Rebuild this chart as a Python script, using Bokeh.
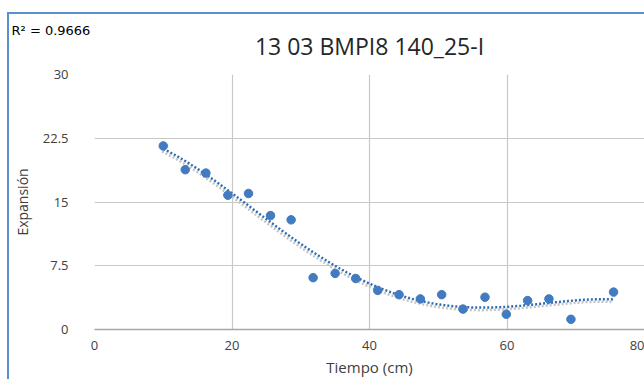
import numpy as np
from bokeh.plotting import figure
from bokeh.models import Title, FixedTicker
from bokeh.embed import file_html
from bokeh.resources import INLINE

title_text = "13 03 BMPI8 140_25-I"
r2_text = "R² = 0.9666"
x_label = "Tiempo (cm)"
y_label = "Expansión"

tiempo = [10.0, 13.2, 16.2, 19.4, 22.4, 25.6, 28.6, 31.8, 35.0, 38.0, 41.2,
          44.3, 47.4, 50.5, 53.6, 56.8, 59.9, 63.0, 66.1, 69.3, 75.5]
expansion = [21.6, 18.8, 18.4, 15.8, 16.0, 13.4, 12.9, 6.1, 6.6, 6.0, 4.6,
             4.1, 3.6, 4.1, 2.4, 3.8, 1.8, 3.4, 3.6, 1.2, 4.4]

x_ticks = [0, 20, 40, 60, 80]
y_ticks = [0, 7.5, 15, 22.5, 30]
y_tick_labels = ["0", "7.5", "15", "22.5", "30"]

# polynomial trendline fitted to the data
coef = np.polyfit(tiempo, expansion, 4)
tx = np.linspace(min(tiempo), max(tiempo), 200)
ty = np.polyval(coef, tx)

OX, OY = 9, 14  # figure offset inside the page (chart border)
p = figure(width=644 - OX, height=379 - OY, output_backend="svg", toolbar_location=None,
           x_range=(0, 80), y_range=(0, 30),
           min_border_left=93 - OX, min_border_right=0,
           min_border_top=73 - OY, min_border_bottom=50)
p.margin = (OY, 0, 0, OX)
p.styles = {"outline": "2px solid #5a8fd1"}
p.outline_line_color = None
p.background_fill_color = "white"
p.border_fill_color = "white"

# outermost title: R² note; inner title: chart title
p.title = Title(text=r2_text, align="left", offset=10 - 93,
                text_font="DejaVu Sans", text_font_size="13px",
                text_font_style="normal", text_color="#000000", standoff=-47)
p.add_layout(Title(text=title_text, align="center",
                   text_font="Open Sans", text_font_size="23px",
                   text_font_style="normal", text_color="#262626", standoff=26), "above")

p.xaxis.ticker = FixedTicker(ticks=x_ticks)
p.yaxis.ticker = FixedTicker(ticks=y_ticks)
p.yaxis.major_label_overrides = {t: l for t, l in zip(y_ticks, y_tick_labels)}
for ax in (p.xaxis, p.yaxis):
    ax.major_tick_line_color = None
    ax.minor_tick_line_color = None
    ax.major_label_text_font = "Open Sans"
    ax.major_label_text_font_size = "13px"
    ax.major_label_text_color = "#404040"
    ax.axis_label_text_font = "Open Sans"
    ax.axis_label_text_font_style = "normal"
    ax.axis_label_text_color = "#404040"
p.yaxis.axis_line_color = None
p.xaxis.axis_line_color = "#a6a6a6"
p.xaxis.axis_line_width = 1.5
p.xaxis.major_label_standoff = 5
p.yaxis.major_label_standoff = 20
p.xaxis.axis_label = x_label
p.xaxis.axis_label_text_font_size = "15px"
p.xaxis.axis_label_standoff = 4
p.yaxis.axis_label = y_label
p.yaxis.axis_label_text_font_size = "14px"
p.yaxis.axis_label_standoff = 8

p.xgrid.ticker = FixedTicker(ticks=x_ticks)
p.ygrid.ticker = FixedTicker(ticks=y_ticks)
p.grid.grid_line_color = "#c8c8c8"
p.grid.grid_line_width = 1.2

# trendline shadow and trendline
p.line(tx - 0.2, ty - 0.3, line_color="#c4c4c4", line_width=2.5, line_dash="2 2")
p.line(tx, ty, line_color="#2f6db3", line_width=2.5, line_dash="2 2")
p.scatter(tiempo, expansion, size=8.5, fill_color="#427bbf", line_color="#427bbf")

open("out.html", "w").write(file_html(p, INLINE))
